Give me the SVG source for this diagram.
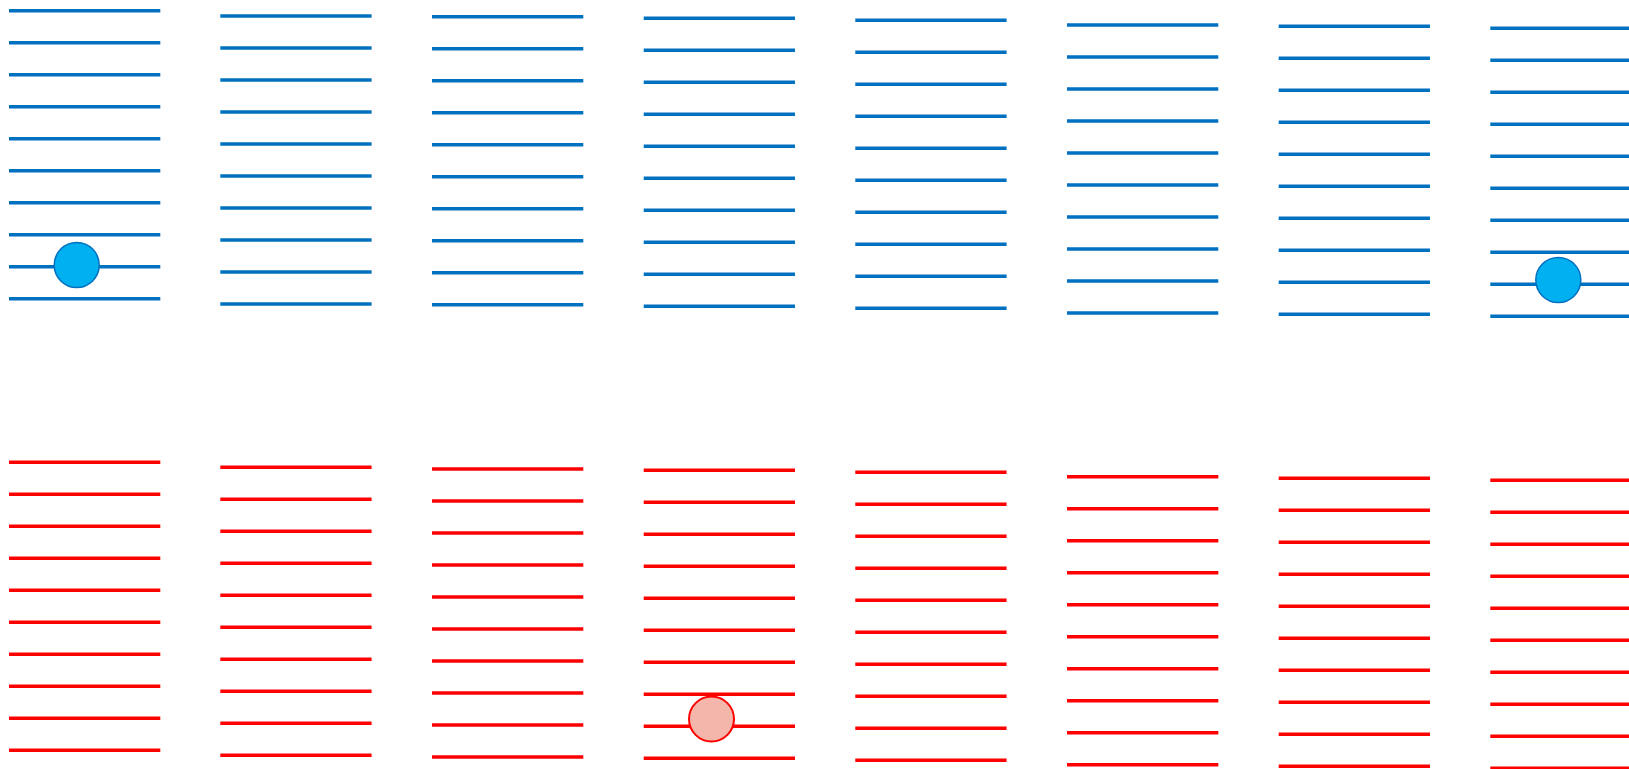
<svg xmlns="http://www.w3.org/2000/svg" width="1629" height="769" viewBox="0 0 1629 769">
<defs>
<style>
.b{stroke:#0070C0;stroke-width:3.5}
.r{stroke:#FF0000;stroke-width:3.5}
.bc{fill:#00B0F0;stroke:#0070C0;stroke-width:1.5}
.rc{fill:#F4B6AB;stroke:#FF0000;stroke-width:2}
</style>
<g id="stack">
<line x1="0" y1="0" x2="151.3" y2="0"/>
<line x1="0" y1="32" x2="151.3" y2="32"/>
<line x1="0" y1="64" x2="151.3" y2="64"/>
<line x1="0" y1="96" x2="151.3" y2="96"/>
<line x1="0" y1="128" x2="151.3" y2="128"/>
<line x1="0" y1="160" x2="151.3" y2="160"/>
<line x1="0" y1="192" x2="151.3" y2="192"/>
<line x1="0" y1="224" x2="151.3" y2="224"/>
<line x1="0" y1="256" x2="151.3" y2="256"/>
<line x1="0" y1="288" x2="151.3" y2="288"/>
</g>
</defs>
<rect width="1629" height="769" fill="#FFFFFF"/>
<g id="blue-row" class="b">
<g id="b1"><use href="#stack" x="9" y="10.7"/><circle class="bc" cx="76.7" cy="265" r="22.5"/></g>
<g id="b2"><use href="#stack" x="220.3" y="16"/></g>
<g id="b3"><use href="#stack" x="432" y="16.7"/></g>
<g id="b4"><use href="#stack" x="643.7" y="18.3"/></g>
<g id="b5"><use href="#stack" x="855.3" y="20.3"/></g>
<g id="b6"><use href="#stack" x="1067" y="25"/></g>
<g id="b7"><use href="#stack" x="1278.7" y="26.3"/></g>
<g id="b8"><use href="#stack" x="1490.3" y="28.3"/><circle class="bc" cx="1558.3" cy="280" r="22.5"/></g>
</g>
<g id="red-row" class="r">
<g id="r1"><use href="#stack" x="9" y="462.3"/></g>
<g id="r2"><use href="#stack" x="220.3" y="467.3"/></g>
<g id="r3"><use href="#stack" x="432" y="469"/></g>
<g id="r4"><use href="#stack" x="643.7" y="470.3"/><circle class="rc" cx="711.5" cy="719" r="22.5"/></g>
<g id="r5"><use href="#stack" x="855.3" y="472.3"/></g>
<g id="r6"><use href="#stack" x="1067" y="476.7"/></g>
<g id="r7"><use href="#stack" x="1278.7" y="478.3"/></g>
<g id="r8"><use href="#stack" x="1490.3" y="480.3"/></g>
</g>
<g id="connectors"/>
</svg>
